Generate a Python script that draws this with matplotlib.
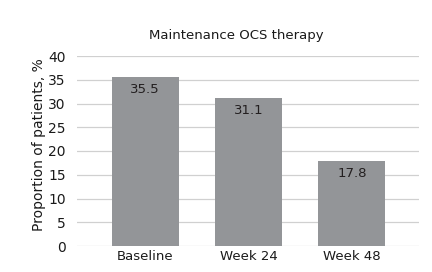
import numpy as np
import matplotlib.pyplot as plt

categories = ["Baseline", "Week 24", "Week 48"]
values = [35.5, 31.1, 17.8]
yticks = [0, 5, 10, 15, 20, 25, 30, 35, 40]

plt.rcParams['font.family'] = ['DejaVu Sans']

fig = plt.figure(figsize=(4.32, 2.72), dpi=100)
ax = fig.add_axes([77/432, 1-246/272, 342/432, 190/272])

x = np.arange(len(categories))
ax.bar(x, values, width=0.65, color="#939598", zorder=2)
for xi, v in zip(x, values):
    ax.text(xi, v - 1.2, f"{v:.1f}", ha="center", va="top", fontsize=9.5, color="#231f20")

ax.set_xlim(-0.66, 2.65)
ax.set_ylim(0, 40)
ax.set_yticks(yticks)
ax.set_xticks(x)
ax.set_xticklabels(categories, fontsize=9.5, color="#1a1a1a")
ax.tick_params(axis="y", labelsize=10, length=0, pad=8, colors="#1a1a1a")
ax.tick_params(axis="x", length=0, pad=3)
ax.grid(axis="y", color="#d0d0d0", linewidth=0.9, zorder=0)
for s in ax.spines.values():
    s.set_visible(False)

ax.set_ylabel("Proportion of patients, %", fontsize=10, color="#1a1a1a")
ax.yaxis.set_label_coords(-0.09, 0.535)
fig.text(0.5 + 20/432, 1-36/272, "Maintenance OCS therapy", ha="center", va="center", fontsize=9.5, color="#1a1a1a")

fig.savefig("out.png", dpi=100)
